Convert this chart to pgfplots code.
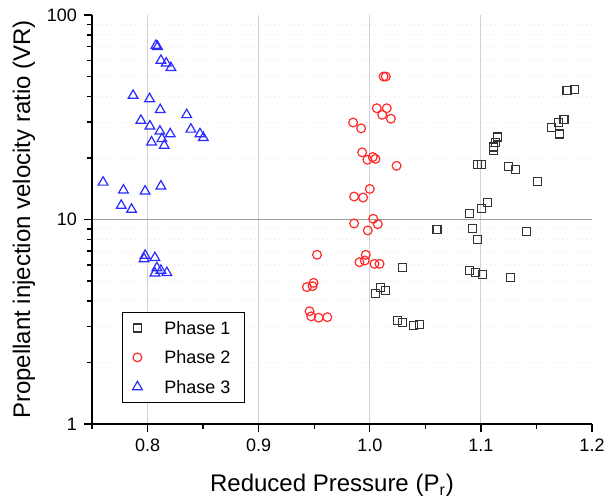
\documentclass[border=0pt]{standalone}
\usepackage{pgfplots}
\pgfplotsset{compat=1.18}
\usepackage{fontspec}
\setmainfont{Liberation Sans}
\definecolor{pone}{HTML}{333333}
\definecolor{ptwo}{HTML}{FF2A2A}
\definecolor{pthree}{HTML}{2A2AFF}
\pgfplotsset{mylegimg/.style={legend image code/.code={\draw[##1] plot coordinates {(0pt,0pt)};}}}
\begin{document}
\begin{tikzpicture}
\begin{axis}[
  name=ax,
  scale only axis, width=250pt, height=204.5pt,
  xmin=0.75, xmax=1.2, ymin=1, ymax=100, ymode=log,
  axis lines=left, axis line style={-, black, line width=0.9pt},
  tick align=outside, major tick length=4pt, minor tick length=2.5pt,
  tick style={black, line width=0.7pt},
  xtick={0.8,0.9,1.0,1.1}, xticklabels={0.8,0.9,1.0,1.1},
  extra x ticks={1.2}, extra x tick labels={1.2}, extra x tick style={grid=none},
  minor xtick={0.75,0.85,0.95,1.05,1.15},
  ytick={1,10}, yticklabels={1,10},
  extra y ticks={100}, extra y tick labels={100}, extra y tick style={grid=none},
  minor ytick={2,3,4,5,6,7,8,9,20,30,40,50,60,70,80,90},
  xmajorgrids, ymajorgrids, yminorgrids,
  major x grid style={gray!35, line width=0.6pt},
  major y grid style={gray!75, line width=0.6pt},
  minor y grid style={gray!18, dotted, line width=0.4pt},
  ticklabel style={font=\fontsize{9}{10}\selectfont},
  xlabel={Reduced Pressure (P\textsubscript{r})},
  ylabel={Propellant injection velocity ratio (VR)},
  xlabel style={font=\fontsize{12}{14}\selectfont, at={([xshift=-5pt,yshift=-33.8pt]rel axis cs:0.5,0)}, anchor=base},
  ylabel style={font=\fontsize{12}{14}\selectfont, at={([xshift=-34pt]rel axis cs:0,0.5)}, anchor=center},
  legend style={at={(rel axis cs:0.06,0.0513)}, anchor=south west, draw=black, line width=0.6pt,
    font=\fontsize{9}{10}\selectfont, inner xsep=5pt, inner ysep=2.5pt, row sep=4.25pt,
    nodes={text height=6.5pt, text depth=0pt, inner ysep=2pt},
    /tikz/every odd column/.append style={column sep=9pt}},
  legend cell align=left,
]
\addplot[only marks, mark=square, mark size=2pt, draw=pone, mark options={line width=0.6pt, fill=none}, mylegimg] coordinates {
(1.1775,42.7) (1.1841,43.2) (1.1748,30.8) (1.1700,29.9) (1.1639,28.1) (1.1706,26.2)
(1.1153,25.3) (1.1128,23.9) (1.1116,22.6) (1.1110,21.7)
(1.0972,18.5) (1.1008,18.6) (1.1249,18.2) (1.1312,17.5) (1.1507,15.3)
(1.1062,12.15) (1.1002,11.3) (1.0894,10.7)
(1.0605,8.94) (1.0924,9.07) (1.0966,7.96) (1.1414,8.71)
(1.0292,5.82) (1.0894,5.63) (1.0948,5.51) (1.1017,5.37) (1.1267,5.20)
(1.0094,4.67) (1.0142,4.50) (1.0051,4.36)
(1.0250,3.21) (1.0292,3.13) (1.0392,3.02) (1.0446,3.07)
};
\addlegendentry{Phase 1}
\addplot[only marks, mark=o, mark size=2.2pt, draw=ptwo, mark options={line width=0.6pt, fill=none}, mylegimg] coordinates {
(1.0124,50.0) (1.0144,50.0) (1.0063,35.0) (1.0153,35.0) (1.0112,32.5) (1.0190,31.1)
(0.9850,29.8) (0.9922,27.9)
(0.9931,21.3) (0.9979,19.6) (1.0027,20.2) (1.0051,19.8) (1.0241,18.3)
(1.0000,14.1) (0.9859,12.95) (0.9940,12.8)
(1.0031,10.08) (1.0072,9.48) (0.9859,9.56) (0.9982,8.84)
(0.9525,6.72) (0.9964,6.72) (0.9955,6.30) (0.9907,6.18) (1.0042,6.07) (1.0088,6.07)
(0.9434,4.67) (0.9494,4.90) (0.9485,4.72)
(0.9458,3.56) (0.9473,3.36) (0.9539,3.31) (0.9618,3.33)
};
\addlegendentry{Phase 2}
\addplot[only marks, mark=triangle, mark size=2.8pt, draw=pthree, mark options={line width=0.6pt, fill=none}, mylegimg] coordinates {
(0.8075,70.9) (0.8090,70.0) (0.8120,59.9) (0.8168,58.1) (0.8210,55.2)
(0.7870,40.4) (0.8018,38.9) (0.8114,34.4) (0.8352,32.5) (0.7940,30.5)
(0.8021,28.6) (0.8390,27.6) (0.8111,27.0) (0.8204,26.2) (0.8472,26.2)
(0.8502,25.1) (0.8129,24.8) (0.8036,23.9) (0.8150,23.0)
(0.7600,15.2) (0.7783,13.9) (0.7978,13.75) (0.8120,14.55) (0.7763,11.7) (0.7856,11.2)
(0.7978,6.67) (0.7969,6.42) (0.8066,6.50)
(0.8084,5.80) (0.8120,5.63) (0.8066,5.46) (0.8174,5.49)
};
\addlegendentry{Phase 3}
\end{axis}
\pgfresetboundingbox
\path ([xshift=-46pt,yshift=-37.5pt]ax.south west) rectangle ([xshift=10.5pt,yshift=7.5pt]ax.north east);
\end{tikzpicture}
\end{document}
